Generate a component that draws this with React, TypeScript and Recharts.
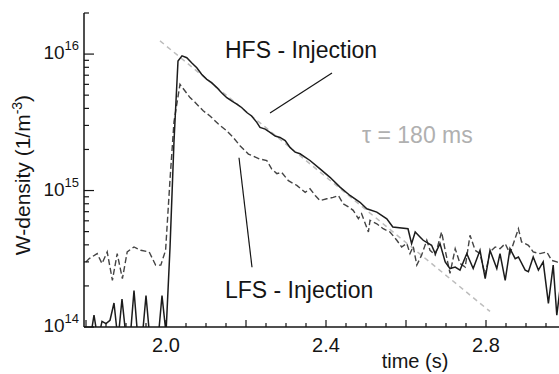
import { LineChart, Line, XAxis, YAxis, ReferenceLine } from 'recharts';

// HFS injection (solid) – time in s, W density in 1/m^3
const hfsTime = [1.80, 1.81, 1.82, 1.83, 1.84, 1.85, 1.86, 1.87, 1.88, 1.89, 1.90, 1.91, 1.92, 1.93, 1.94, 1.95, 1.96, 1.97, 1.98, 1.99, 2.00, 2.01, 2.02, 2.03, 2.04,
  2.052, 2.064, 2.077, 2.089, 2.102, 2.114, 2.127, 2.139, 2.152, 2.164, 2.177, 2.189, 2.202, 2.214, 2.227, 2.235, 2.248, 2.26, 2.273, 2.285, 2.298, 2.31, 2.323, 2.335,
  2.36, 2.385, 2.41, 2.435, 2.46, 2.485, 2.502, 2.527, 2.552, 2.567, 2.605, 2.614, 2.623, 2.635, 2.643, 2.664, 2.673, 2.685, 2.698, 2.71,
  2.723, 2.735, 2.752, 2.768, 2.785, 2.798, 2.81, 2.827, 2.835, 2.848, 2.86, 2.873, 2.881, 2.898, 2.906, 2.918, 2.931, 2.943, 2.956, 2.968, 2.977, 2.99];
const hfsDensity = [0.8e14, 0.8e14, 1.22e14, 0.8e14, 1.1e14, 1.06e14, 1.12e14, 1.5e14, 0.8e14, 1.6e14, 0.85e14, 0.8e14, 1.85e14, 0.8e14, 0.8e14, 1.7e14, 0.8e14, 0.8e14, 0.8e14, 1.7e14, 0.9e14, 3.8e14, 2.3e15, 8.9e15, 9.7e15,
  9.4e15, 8.65e15, 7.94e15, 7.11e15, 6.53e15, 6.17e15, 5.68e15, 5.21e15, 4.79e15, 4.54e15, 4.3e15, 4.06e15, 3.73e15, 3.52e15, 3.16e15, 2.9e15, 2.82e15, 2.67e15, 2.51e15, 2.45e15, 2.32e15, 2.07e15, 1.91e15, 1.86e15,
  1.66e15, 1.44e15, 1.25e15, 1.06e15, 9.2e14, 8.2e14, 7.35e14, 6.95e14, 6.21e14, 5.4e14, 5.25e14, 4.08e14, 4.97e14, 4.57e14, 4.32e14, 3.97e14, 3.45e14, 4.08e14, 3.0e14, 2.68e14,
  2.75e14, 2.61e14, 3.45e14, 2.68e14, 3.65e14, 2.26e14, 3.65e14, 2.68e14, 3.45e14, 2.2e14, 3.75e14, 3.17e14, 3.26e14, 2.61e14, 2.54e14, 3.26e14, 2.61e14, 3.0e14, 1.49e14, 2.84e14, 1.22e14, 2.5e14];

// LFS injection (dashed)
const lfsTime = [1.80, 1.808, 1.828, 1.84, 1.853, 1.866, 1.878, 1.891, 1.903, 1.92, 1.937, 1.958, 1.974, 1.987, 1.999, 2.01, 2.02, 2.035,
  2.06, 2.073, 2.093, 2.11, 2.131, 2.152, 2.168, 2.185, 2.206, 2.235, 2.252, 2.264, 2.277, 2.289, 2.306, 2.327, 2.348, 2.36, 2.373, 2.385,
  2.402, 2.418, 2.431, 2.443, 2.456, 2.468, 2.481, 2.489, 2.506, 2.51, 2.527, 2.543, 2.56, 2.577, 2.589, 2.602, 2.61, 2.618, 2.627, 2.639,
  2.652, 2.66, 2.673, 2.689, 2.698, 2.71, 2.723, 2.735, 2.748, 2.76, 2.773, 2.785, 2.798, 2.81, 2.823, 2.835, 2.848, 2.86, 2.881, 2.889,
  2.906, 2.918, 2.935, 2.952, 2.964, 2.977, 2.99];
const lfsDensity = [3.0e14, 3.17e14, 3.45e14, 2.92e14, 3.55e14, 2.2e14, 3.45e14, 2.26e14, 3.55e14, 3.86e14, 3.65e14, 3.55e14, 2.84e14, 2.84e14, 3.65e14, 1.2e15, 3.2e15, 6.0e15,
  4.8e15, 4.42e15, 3.84e15, 3.52e15, 3.07e15, 2.74e15, 2.45e15, 2.13e15, 1.85e15, 1.7e15, 1.66e15, 1.44e15, 1.33e15, 1.36e15, 1.18e15, 1.09e15, 9.7e14, 1.03e15, 9.2e14, 8.45e14,
  8.7e14, 8.9e14, 9.2e14, 8.0e14, 7.6e14, 7.16e14, 6.22e14, 6.76e14, 4.97e14, 6.04e14, 5.71e14, 5.25e14, 4.97e14, 4.32e14, 3.86e14, 4.1e14, 3.45e14, 3.9e14, 2.84e14, 3.36e14,
  4.32e14, 3.65e14, 3.36e14, 4.97e14, 3.65e14, 2.47e14, 3.75e14, 2.92e14, 2.75e14, 4.7e14, 3.65e14, 3.45e14, 2.4e14, 3.55e14, 3.86e14, 3.75e14, 4.08e14, 3.45e14, 5.25e14, 4.2e14,
  3.97e14, 3.55e14, 3.45e14, 3.55e14, 3.08e14, 3.0e14, 2.9e14];

// exponential fit, tau = 180 ms
const fitTime = [1.985, 2.81];
const fitDensity = [1.25e16, 1.3e14];

const xTicks = [1.8, 1.85, 1.9, 1.95, 2.0, 2.05, 2.1, 2.15, 2.2, 2.25, 2.3, 2.35, 2.4, 2.45, 2.5, 2.55, 2.6, 2.65, 2.7, 2.75, 2.8, 2.85, 2.9, 2.95, 3.0];
const xMajor = [1.8, 2.0, 2.2, 2.4, 2.6, 2.8, 3.0];
const xLabels = ['2.0', '2.4', '2.8'];
const yTicks = [1e14, 2e14, 3e14, 4e14, 5e14, 6e14, 7e14, 8e14, 9e14, 1e15, 2e15, 3e15, 4e15, 5e15, 6e15, 7e15, 8e15, 9e15, 1e16, 2e16];

const hfsData = hfsTime.map((t, i) => ({ t, v: hfsDensity[i] }));
const lfsData = lfsTime.map((t, i) => ({ t, v: lfsDensity[i] }));
const fitData = fitTime.map((t, i) => ({ t, v: fitDensity[i] }));

const FONT = '"Liberation Sans", Arial, sans-serif';
const INK = '#151515';
const near = (a: number, b: number) => Math.abs(a - b) < 1e-6;

function BottomTick({ x, y, payload }: any) {
  const v = payload.value;
  const major = xMajor.some((m) => near(m, v));
  const label = xLabels.find((l) => near(parseFloat(l), v));
  return (
    <g>
      <line x1={x} x2={x} y1={y} y2={y - (major ? 7 : 4)} stroke={INK} strokeWidth={1.2} />
      {label && (
        <text x={x} y={y + 25} textAnchor="middle" fontSize={20} fontFamily={FONT} fill={INK}>{label}</text>
      )}
    </g>
  );
}

function TopTick({ x, y, payload }: any) {
  const major = xMajor.some((m) => near(m, payload.value));
  return <line x1={x} x2={x} y1={y} y2={y + (major ? 7 : 4)} stroke={INK} strokeWidth={1.2} />;
}

function LeftTick({ x, y, payload }: any) {
  const exp = Math.log10(payload.value);
  const major = near(exp, Math.round(exp));
  return (
    <g>
      <line x1={x} x2={x + (major ? 10 : 5)} y1={y} y2={y} stroke={INK} strokeWidth={1.2} />
      {major && (
        <text x={x - 5} y={y + 5} textAnchor="end" fontSize={19} fontFamily={FONT} fill={INK}>
          10<tspan dy={-9} fontSize={13}>{Math.round(exp)}</tspan>
        </text>
      )}
    </g>
  );
}

export default function App() {
  return (
    <div style={{ position: 'fixed', left: 0, top: 0, width: 559, height: 374, overflow: 'hidden', background: '#fff' }}>
      <LineChart width={620} height={374} margin={{ top: 13, right: 54, bottom: 0, left: 0 }}>
        <XAxis
          xAxisId="b"
          dataKey="t"
          type="number"
          domain={[1.795, 3.0]}
          allowDataOverflow
          ticks={xTicks}
          interval={0}
          height={47}
          tickSize={0}
          tickMargin={0}
          tickLine={false}
          axisLine={{ stroke: INK, strokeWidth: 1.5 }}
          tick={<BottomTick />}
        />
        <XAxis
          xAxisId="top"
          orientation="top"
          dataKey="t"
          type="number"
          domain={[1.795, 3.0]}
          allowDataOverflow
          ticks={xTicks}
          interval={0}
          height={0}
          tickSize={0}
          tickMargin={0}
          tickLine={false}
          axisLine={{ stroke: INK, strokeWidth: 1.5 }}
          tick={<TopTick />}
        />
        <YAxis
          yAxisId="y"
          dataKey="v"
          scale="log"
          domain={[1e14, 2e16]}
          allowDataOverflow
          ticks={yTicks}
          interval={0}
          width={84}
          tickSize={0}
          tickMargin={0}
          tickLine={false}
          axisLine={{ stroke: INK, strokeWidth: 1.5 }}
          tick={<LeftTick />}
        />
        <Line xAxisId="b" yAxisId="y" data={fitData} dataKey="v" type="linear" stroke="#bdbdbd" strokeWidth={1.5} strokeDasharray="5 4" dot={false} isAnimationActive={false} />
        <Line xAxisId="b" yAxisId="y" data={lfsData} dataKey="v" type="linear" stroke="#444" strokeWidth={1.4} strokeDasharray="6 3" dot={false} isAnimationActive={false} />
        <Line xAxisId="b" yAxisId="y" data={hfsData} dataKey="v" type="linear" stroke="#1c1c1c" strokeWidth={1.5} dot={false} isAnimationActive={false} />
        <ReferenceLine xAxisId="b" yAxisId="y" segment={[{ x: 2.26, y: 3.7e15 }, { x: 2.415, y: 7.26e15 }]} stroke={INK} strokeWidth={1.2} ifOverflow="visible" />
        <ReferenceLine xAxisId="b" yAxisId="y" segment={[{ x: 2.1825, y: 1.74e15 }, { x: 2.215, y: 2.74e14 }]} stroke={INK} strokeWidth={1.2} ifOverflow="visible" />
      </LineChart>
      <svg width={559} height={374} style={{ position: 'absolute', left: 0, top: 0, pointerEvents: 'none' }} fontFamily={FONT}>
        <text transform="translate(30,175) rotate(-90)" textAnchor="middle" fontSize={21} fill={INK}>
          W-density (1/m<tspan dy={-8} fontSize={14}>-3</tspan><tspan dy={8}>)</tspan>
        </text>
        <text x={415} y={368} textAnchor="middle" fontSize={20} fill={INK}>time (s)</text>
        <text x={225} y={58} fontSize={23} fill={INK}>HFS - Injection</text>
        <text x={225} y={298} fontSize={23} fill={INK}>LFS - Injection</text>
        <text x={362} y={143} fontSize={23} fill="#b0b0b0">τ = 180 ms</text>
      </svg>
    </div>
  );
}
